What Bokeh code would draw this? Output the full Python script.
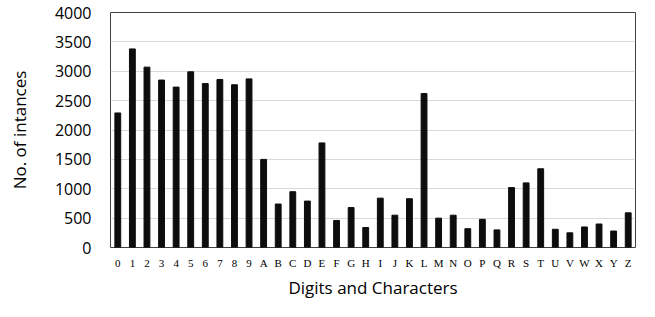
from bokeh.plotting import figure
from bokeh.models import Range1d, FixedTicker, ColumnDataSource
from bokeh.embed import file_html
from bokeh.resources import INLINE

categories = list("0123456789ABCDEFGHIJKLMNOPQRSTUVWXYZ")
counts = [2290, 3380, 3070, 2850, 2730, 2990, 2790, 2860, 2770, 2870,
          1500, 740, 950, 790, 1780, 460, 680, 340, 840, 550, 830, 2620,
          500, 550, 320, 480, 300, 1020, 1100, 1340, 310, 250, 350, 400, 280, 590]
y_ticks = [0, 500, 1000, 1500, 2000, 2500, 3000, 3500, 4000]

src = ColumnDataSource(dict(cat=categories, n=counts))

p = figure(width=639, height=301, x_range=categories, y_range=Range1d(0, 4000),
           output_backend="svg", toolbar_location=None,
           min_border_left=110, min_border_right=4, min_border_top=12, min_border_bottom=40)

p.vbar(x="cat", top="n", width=0.4, source=src, color="#0d0d0d")

p.yaxis.ticker = FixedTicker(ticks=y_ticks)
p.ygrid.grid_line_color = "#d9d9d9"
p.ygrid.grid_line_width = 1
p.xgrid.grid_line_color = None
p.outline_line_color = "#404040"
p.outline_line_width = 1

for ax in (p.xaxis, p.yaxis):
    ax.axis_line_color = None
    ax.major_tick_line_color = None
    ax.minor_tick_line_color = None
    ax.axis_label_text_font = "Open Sans"
    ax.axis_label_text_font_style = "normal"
    ax.axis_label_text_font_size = "17px"
    ax.axis_label_text_color = "#000000"
    ax.major_label_text_color = "#000000"

p.yaxis.major_label_text_font = "Open Sans"
p.yaxis.major_label_text_font_size = "16px"
p.yaxis.major_label_standoff = 13
p.yaxis.axis_label = "No. of intances"
p.yaxis.axis_label_standoff = 21

p.xaxis.major_label_text_font = "Liberation Serif"
p.xaxis.major_label_text_font_size = "11px"
p.xaxis.major_label_standoff = 3
p.xaxis.axis_label = "Digits and Characters"
p.xaxis.axis_label_standoff = 4

open("out.html", "w").write(file_html(p, INLINE))
